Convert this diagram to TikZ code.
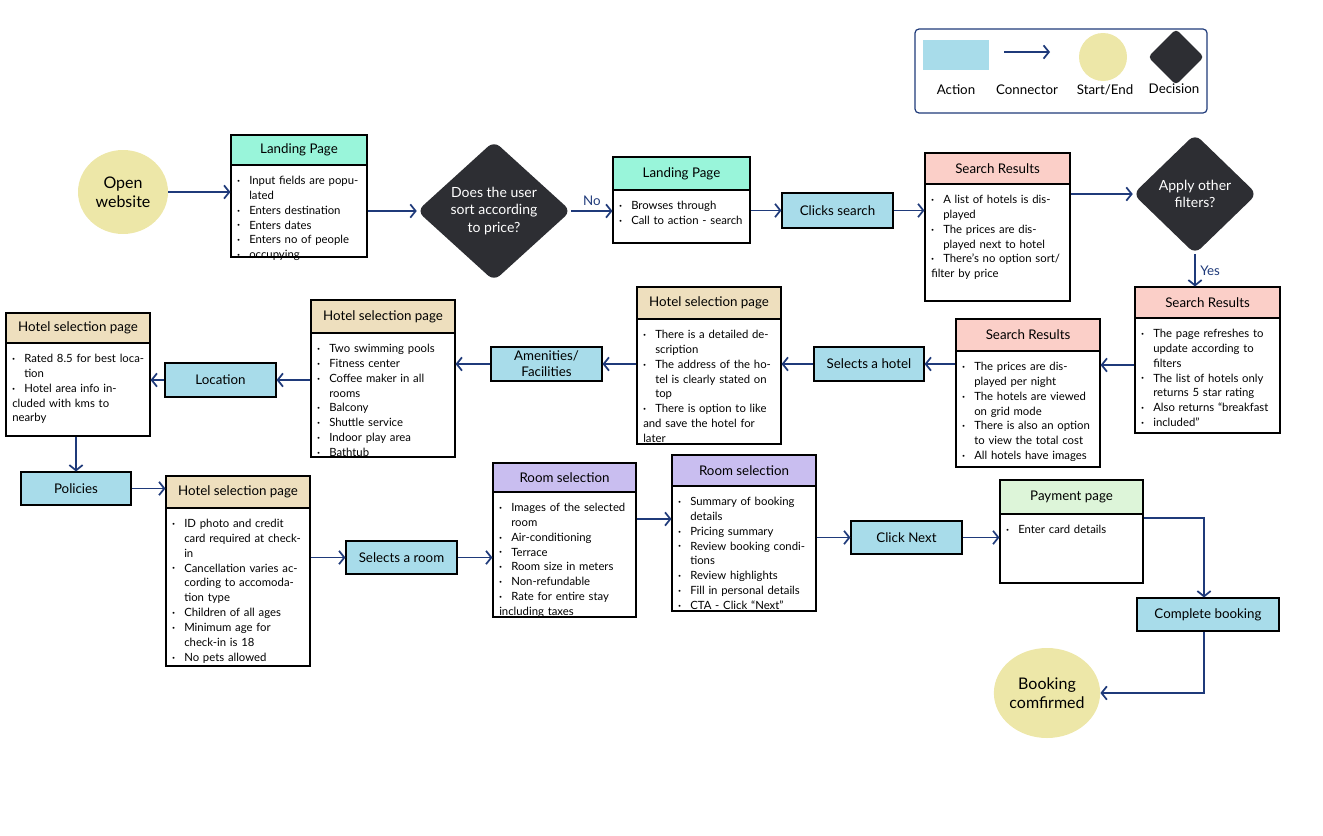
\documentclass[tikz,border=0pt]{standalone}
\usepackage{fontspec}
\setmainfont{Lato}
\usetikzlibrary{arrows.meta,fit,shapes.geometric}

\definecolor{navy}{HTML}{1F3A7A}
\definecolor{actblue}{HTML}{A8DCEA}
\definecolor{mint}{HTML}{99F5DA}
\definecolor{pink}{HTML}{FBCFC8}
\definecolor{tan}{HTML}{EEDFBE}
\definecolor{lav}{HTML}{C9BEF0}
\definecolor{paygreen}{HTML}{DDF5D9}
\definecolor{startend}{HTML}{EDE7A8}
\definecolor{dark}{HTML}{2D2E33}

\tikzset{
  conn/.style={navy, line width=1.3pt, -{Straight Barb[length=4pt,width=10pt]}},
  frame/.style={draw=black, line width=0.8pt, inner sep=0pt},
  act/.style={frame, fill=actblue},
  body/.style={anchor=north west, inner sep=0pt, align=left, font=\fontsize{8.5}{11.2}\selectfont},
  title/.style={font=\fontsize{10}{12}\selectfont},
  term/.style={ellipse, fill=startend, font=\fontsize{12}{14.5}\selectfont, align=center, inner sep=0pt},
  decis/.style={diamond, fill=dark, text=white, rounded corners=6pt, align=center, inner sep=0pt, font=\fontsize{10.5}{13}\selectfont},
}

\newcommand\bi[1]{\par\noindent\hangindent=9pt\hangafter=1\makebox[9pt][l]{\raisebox{.35ex}{\scalebox{.45}{$\bullet$}}}#1}

% name, left, top, width, header bottom, bottom, colour, title, items
\newcommand\card[9]{%
  \node[frame, fill=white, fit={(#2,#3) (#2+#4,#6)}] (#1) {};
  \node[frame, fill=#7, fit={(#2,#3) (#2+#4,#5)}, label={[title]center:#8}] (#1h) {};
  \pgfmathsetlengthmacro\cardw{(#4-12)*0.75pt}
  \node[body, text width=\cardw] at (#2+6,#5+4) {#9};
}
% name, left, top, right, bottom, text
\newcommand\action[6]{%
  \node[act, fit={(#2,#3) (#4,#5)}, label={[title,align=center]center:#6}] (#1) {};
}

\begin{document}
\begin{tikzpicture}[x=0.75pt,y=-0.75pt]
\useasboundingbox (0,0) rectangle (1323,835);

% legend
\draw[navy, line width=0.9pt, rounded corners=3pt] (915,29) rectangle (1207,113);
\node[fill=actblue, fit={(923,40) (989,70)}, inner sep=0pt] (lgact) {};
\coordinate (lga) at (1004,52);
\coordinate (lgb) at (1050,52);
\draw[conn] (lga) -- (lgb);
\node[circle, fill=startend, minimum size=48*0.75pt] (lgterm) at (1103,57) {};
\node[diamond, fill=dark, minimum size=56*0.75pt, inner sep=0pt, rounded corners=3pt] (lgdec) at (1176,57) {};
\node[title] at (956,90) {Action};
\node[title] at (1027,90) {Connector};
\node[title] at (1105,90) {Start/End};
\node[title] at (1174,89) {Decision};

% row 1
\node[term, minimum width=90*0.75pt, minimum height=84*0.75pt] (open) at (123,192) {Open\\website};
\card{lp1}{231}{135}{136}{165}{257}{mint}{Landing Page}{%
  \bi{Input fields are populated}\bi{Enters destination}\bi{Enters dates}\bi{Enters no of people}\bi{occupying}}
\node[decis, minimum width=154*0.75pt, minimum height=140*0.75pt] (d1) at (494,211) {Does the user\\sort according\\to price?};
\card{lp2}{613}{157}{137}{190}{243}{mint}{Landing Page}{%
  \bi{Browses through}\bi{Call to action - search}}
\action{clicks}{782}{193}{893}{228}{Clicks search}
\card{sr1}{925}{153}{145}{184}{301}{pink}{Search Results}{%
  \bi{A list of hotels is displayed}\bi{The prices are displayed next to hotel}\bi{There's no option sort/ filter by price}}
\node[decis, minimum width=124*0.75pt, minimum height=120*0.75pt] (d2) at (1195,194) {Apply other\\filters?};

% row 2
\card{sr2}{1135}{287}{145}{318}{433}{pink}{Search Results}{%
  \bi{The page refreshes to update according to filters}\bi{The list of hotels only returns 5 star rating}\bi{Also returns “breakfast}\bi{included”}}
\card{sr3}{956}{319}{144}{351}{467}{pink}{Search Results}{%
  \bi{The prices are displayed per night}\bi{The hotels are viewed on grid mode}\bi{There is also an option to view the total cost}\bi{All hotels have images}}
\action{selhotel}{814}{347}{924}{381}{Selects a hotel}
\card{hsp1}{637}{287}{144}{319}{444}{tan}{Hotel selection page}{%
  \bi{There is a detailed description}\bi{The address of the hotel is clearly stated on top}\bi{There is option to like and save the hotel for later}}
\action{amen}{491}{347}{602}{381}{Amenities/\\Facilities}
\card{hsp2}{311}{300}{144}{333}{457}{tan}{Hotel selection page}{%
  \bi{Two swimming pools}\bi{Fitness center}\bi{Coffee maker in all rooms}\bi{Balcony}\bi{Shuttle service}\bi{Indoor play area}\bi{Bathtub}}
\action{loc}{165}{363}{276}{397}{Location}
\card{hsp3}{6}{313}{144}{343}{436}{tan}{Hotel selection page}{%
  \bi{Rated 8.5 for best location}\bi{Hotel area info included with kms to nearby}}

% row 3
\action{pol}{21}{472}{131}{505}{Policies}
\card{hsp4}{166}{476}{144}{508}{666}{tan}{Hotel selection page}{%
  \bi{ID photo and credit card required at check-in}\bi{Cancellation varies according to accomodation type}\bi{Children of all ages}\bi{Minimum age for check-in is 18}\bi{No pets allowed}}
\action{selroom}{346}{541}{457}{574}{Selects a room}
\card{rs1}{493}{463}{143}{492}{617}{lav}{Room selection}{%
  \bi{Images of the selected room}\bi{Air-conditioning}\bi{Terrace}\bi{Room size in meters}\bi{Non-refundable}\bi{Rate for entire stay including taxes}}
\card{rs2}{672}{455}{144}{486}{611}{lav}{Room selection}{%
  \bi{Summary of booking details}\bi{Pricing summary}\bi{Review booking conditions}\bi{Review highlights}\bi{Fill in personal details}\bi{CTA - Click “Next”}}
\action{next}{851}{521}{962}{554}{Click Next}
\card{pay}{1000}{480}{143}{514}{583}{paygreen}{Payment page}{%
  \bi{Enter card details}}
\action{complete}{1137}{598}{1279}{631}{Complete booking}
\node[term, minimum width=94*0.75pt, minimum height=90*0.75pt] (done) at (1047,693) {Booking\\comfirmed};

% connectors
\draw[conn] (open.east) -- (lp1.west |- open.east);
\draw[conn] (lp1.east |- d1.west) -- (d1.west);
\draw[conn] (d1.east) -- node[above, title, pos=0.5] {No} (lp2.west |- d1.east);
\draw[conn] (lp2.east |- clicks.west) -- (clicks.west);
\draw[conn] (clicks.east) -- (sr1.west |- clicks.east);
\draw[conn] (sr1.east |- d2.west) -- (d2.west);
\draw[conn] (d2.south) -- node[right, title] {Yes} (sr2.north -| d2.south);
\draw[conn] (sr2.west |- 0,365) -- (sr3.east |- 0,365);
\draw[conn] (sr3.west |- selhotel.east) -- (selhotel.east);
\draw[conn] (selhotel.west) -- (hsp1.east |- selhotel.west);
\draw[conn] (hsp1.west |- amen.east) -- (amen.east);
\draw[conn] (amen.west) -- (hsp2.east |- amen.west);
\draw[conn] (hsp2.west |- loc.east) -- (loc.east);
\draw[conn] (loc.west) -- (hsp3.east |- loc.west);
\draw[conn] (hsp3.south -| pol.north) -- (pol.north);
\draw[conn] (pol.east) -- (hsp4.west |- pol.east);
\draw[conn] (hsp4.east |- selroom.west) -- (selroom.west);
\draw[conn] (selroom.east) -- (rs1.west |- selroom.east);
\draw[conn] (rs1.east |- 0,519) -- (rs2.west |- 0,519);
\draw[conn] (rs2.east |- next.west) -- (next.west);
\draw[conn] (next.east) -- (pay.west |- next.east);
\draw[conn] (pay.east |- 0,518) -| (complete.north -| 1204,0);
\draw[conn] (complete.south -| 1204,0) |- (done.east);
\end{tikzpicture}
\end{document}
